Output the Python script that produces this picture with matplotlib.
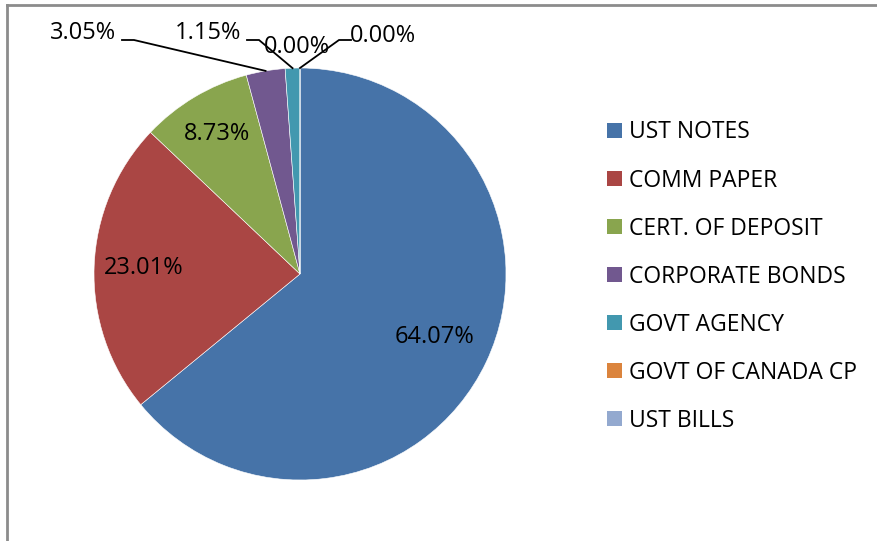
import numpy as np
import matplotlib
matplotlib.use("Agg")
import matplotlib.pyplot as plt
from matplotlib.patches import Patch

plt.rcParams["font.family"] = ["Open Sans", "DejaVu Sans"]

categories = ["UST NOTES", "COMM PAPER", "CERT. OF DEPOSIT", "CORPORATE BONDS",
              "GOVT AGENCY", "GOVT OF CANADA CP", "UST BILLS"]
shares = [64.07, 23.01, 8.73, 3.05, 1.15, 0.00, 0.00]
colors = ["#4673A8", "#AA4644", "#89A54E", "#71588F", "#4298AF", "#DB843D", "#93A9CF"]

W, H = 878, 541
fig = plt.figure(figsize=(W / 100, H / 100), dpi=100)
ax = fig.add_axes([0, 0, 1, 1])
ax.set_xlim(0, W)
ax.set_ylim(0, H)
ax.set_aspect("equal")
ax.axis("off")

cx, cy, r = 300, H - 274, 206
wedges, _ = ax.pie(shares, colors=colors, startangle=90, counterclock=False,
                   center=(cx, cy), radius=r, normalize=True,
                   wedgeprops=dict(linewidth=0.4, edgecolor="white"))
ax.set_xlim(0, W)
ax.set_ylim(0, H)

fs = 17
# inside labels for the big slices
inside_dist = [0.72, 0.76, 0.79]
for w, val, d in zip(wedges[:3], shares[:3], inside_dist):
    ang = np.deg2rad((w.theta1 + w.theta2) / 2)
    ax.text(cx + d * r * np.cos(ang), cy + d * r * np.sin(ang), f"{val:.2f}%",
            ha="center", va="center", fontsize=fs, color="black")

# outside labels with leader lines (label anchor in pixels from top-left)
out_pos = [(83, 33), (208, 33), (297, 47), (383, 36)]
out_side = ["right", "right", None, "left"]
for w, val, (tx, ty), side in zip(wedges[3:], shares[3:], out_pos, out_side):
    ang = np.deg2rad((w.theta1 + w.theta2) / 2)
    ex, ey = cx + r * np.cos(ang), cy + r * np.sin(ang)
    ty = H - ty
    ax.text(tx, ty, f"{val:.2f}%", ha="center", va="center", fontsize=fs, color="black")
    if side == "right":
        x0 = tx + 39
        ax.plot([x0, x0 + 12, ex], [ty - 7, ty - 7, ey], color="black", lw=1.3,
                solid_joinstyle="miter")
    elif side == "left":
        x0 = tx - 32
        ax.plot([x0, x0 - 12, ex], [ty - 4, ty - 4, ey], color="black", lw=1.3,
                solid_joinstyle="miter")

handles = [Patch(facecolor=c, edgecolor="none") for c in colors]
ax.legend(handles, categories, loc="upper left", bbox_to_anchor=(596 / W, 1 - 109 / H),
          frameon=False, fontsize=16.5, handlelength=0.65, handleheight=0.65,
          handletextpad=0.3, labelspacing=1.05, borderpad=0)

# chart area border (top and left only visible)
border = "#8C8C8C"
fig.add_artist(plt.Line2D([7 / W, 1], [1 - 5 / H, 1 - 5 / H], color=border, lw=2,
                          transform=fig.transFigure))
fig.add_artist(plt.Line2D([7 / W, 7 / W], [0, 1 - 5 / H], color=border, lw=2,
                          transform=fig.transFigure))

fig.savefig("out.png", dpi=100)
